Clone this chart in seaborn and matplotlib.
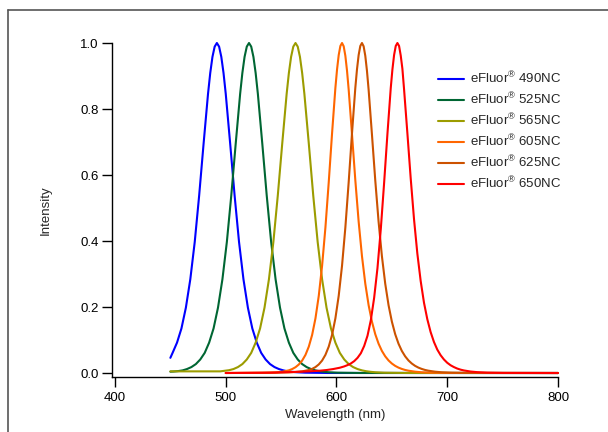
import pandas as pd
import matplotlib
matplotlib.use("Agg")
import matplotlib.pyplot as plt
import seaborn as sns
from matplotlib.lines import Line2D

# emission spectra, values
dyes = [r"eFluor$^{®}$ 490NC", r"eFluor$^{®}$ 525NC", r"eFluor$^{®}$ 565NC",
        r"eFluor$^{®}$ 605NC", r"eFluor$^{®}$ 625NC", r"eFluor$^{®}$ 650NC"]
colors = ["#0000ff", "#006633", "#9c9c00", "#ff6600", "#cc5200", "#ff0000"]

blue_nm = [450, 452, 456, 460, 464, 468, 472, 476, 480, 484, 486, 488, 490, 492, 494, 496, 498,
           500, 504, 508, 512, 516, 520, 524, 528, 532, 536, 540, 544, 548, 552, 556, 560, 564,
           572, 592, 800]
blue_val = [0.046, 0.061, 0.092, 0.135, 0.198, 0.284, 0.397, 0.538, 0.695, 0.846, 0.909, 0.958,
            0.989, 1.0, 0.989, 0.958, 0.909, 0.846, 0.695, 0.538, 0.397, 0.284, 0.198, 0.135,
            0.092, 0.061, 0.041, 0.027, 0.018, 0.012, 0.008, 0.005, 0.0035, 0.0023, 0.001,
            0.0001, 0.0]

green_nm = [450, 453, 457, 461, 465, 469, 473, 477, 481, 485, 489, 493, 497, 501, 505, 509, 513,
            515, 517, 519, 521, 523, 525, 527, 529, 533, 537, 541, 545, 549, 553, 557, 561, 565,
            569, 573, 577, 581, 585, 589, 593, 601, 621, 800]
green_val = [0.004, 0.0045, 0.0058, 0.0079, 0.012, 0.018, 0.027, 0.041, 0.061, 0.092, 0.135,
             0.198, 0.284, 0.397, 0.538, 0.695, 0.846, 0.909, 0.958, 0.989, 1.0, 0.989, 0.958,
             0.909, 0.846, 0.695, 0.538, 0.397, 0.284, 0.198, 0.135, 0.092, 0.061, 0.041, 0.027,
             0.018, 0.012, 0.008, 0.0053, 0.0035, 0.0023, 0.001, 0.0001, 0.0]

olive_nm = [450, 495, 503, 507, 511, 515, 519, 523, 527, 531, 535, 539, 543, 547, 551, 555, 557,
            559, 561, 563, 565, 567, 569, 571, 575, 579, 583, 587, 591, 595, 599, 603, 607, 611,
            615, 619, 623, 627, 631, 635, 643, 663, 800]
olive_val = [0.005, 0.005, 0.0085, 0.012, 0.018, 0.027, 0.041, 0.061, 0.092, 0.135, 0.198, 0.284,
             0.397, 0.538, 0.695, 0.846, 0.909, 0.958, 0.989, 1.0, 0.989, 0.958, 0.909, 0.846,
             0.695, 0.538, 0.397, 0.284, 0.198, 0.135, 0.092, 0.061, 0.041, 0.027, 0.018, 0.012,
             0.008, 0.0053, 0.0035, 0.0023, 0.001, 0.0001, 0.0]

orange_nm = [500, 533, 545, 551, 557, 560, 563, 566, 569, 572, 575, 578, 581, 584, 587, 590, 593,
             596, 599, 600.5, 602, 603.5, 605, 606.5, 608, 609.5, 611, 614, 617, 620, 623, 626,
             629, 632, 635, 638, 641, 644, 647, 650, 653, 656, 659, 662, 665, 671, 677, 686, 701,
             800]
orange_val = [0.0, 0.0004, 0.0017, 0.0038, 0.0081, 0.012, 0.0176, 0.0258, 0.0377, 0.055, 0.08,
              0.1155, 0.1655, 0.234, 0.3252, 0.4409, 0.5783, 0.7264, 0.864, 0.920, 0.9635, 0.991,
              1.0, 0.990, 0.9612, 0.916, 0.8587, 0.7233, 0.5841, 0.4588, 0.3542, 0.2707, 0.2056,
              0.1557, 0.1176, 0.0888, 0.0669, 0.0505, 0.038, 0.0287, 0.0216, 0.0163, 0.0123,
              0.0092, 0.007, 0.004, 0.0022, 0.001, 0.0002, 0.0]

dkorange_nm = [500, 545, 557, 563, 569, 575, 578, 581, 584, 587, 590, 593, 596, 599, 602, 605,
               608, 611, 614, 617, 618.5, 620, 621.5, 623, 624.5, 626, 627.5, 629, 632, 635, 638,
               641, 644, 647, 650, 653, 656, 659, 662, 665, 668, 671, 674, 677, 680, 683, 689,
               695, 704, 719, 800]
dkorange_val = [0.0, 0.001, 0.002, 0.003, 0.005, 0.009, 0.0125, 0.018, 0.026, 0.0377, 0.055, 0.08,
                0.1155, 0.1655, 0.234, 0.3252, 0.4409, 0.5783, 0.7264, 0.864, 0.920, 0.9635,
                0.991, 1.0, 0.990, 0.9612, 0.916, 0.8587, 0.7233, 0.5841, 0.4588, 0.3542, 0.2707,
                0.2056, 0.1557, 0.1176, 0.0888, 0.0669, 0.0505, 0.038, 0.0287, 0.0216, 0.0163,
                0.0123, 0.0092, 0.007, 0.004, 0.0022, 0.001, 0.0002, 0.0]

red_nm = [500, 540, 560, 575, 585, 591, 597, 603, 607, 610, 613, 616, 619, 622, 625, 628, 631,
          634, 637, 640, 643, 646, 649, 650.5, 652, 653.5, 655, 656.5, 658, 659.5, 661, 664, 667,
          670, 673, 676, 679, 682, 685, 688, 691, 694, 697, 700, 703, 706, 709, 712, 715, 721,
          727, 736, 751, 800]
red_val = [0.0, 0.001, 0.003, 0.005, 0.007, 0.009, 0.012, 0.016, 0.02, 0.024, 0.029, 0.036,
           0.046, 0.06, 0.082, 0.113, 0.16, 0.228, 0.318, 0.436, 0.576, 0.725, 0.864, 0.920,
           0.9635, 0.991, 1.0, 0.991, 0.962, 0.922, 0.86, 0.727, 0.59, 0.466, 0.362, 0.279, 0.213,
           0.163, 0.124, 0.094, 0.071, 0.054, 0.041, 0.031, 0.0235, 0.018, 0.0135, 0.0102,
           0.0078, 0.0045, 0.0026, 0.0011, 0.0003, 0.0]

x_ticks = [400, 500, 600, 700, 800]
y_ticks = [0.0, 0.2, 0.4, 0.6, 0.8, 1.0]

sns.set_style("ticks")
plt.rcParams["font.family"] = ["Liberation Sans", "DejaVu Sans"]
plt.rcParams["mathtext.fontset"] = "custom"
plt.rcParams["mathtext.rm"] = "Liberation Sans"
plt.rcParams["mathtext.it"] = "Liberation Sans:italic"
plt.rcParams["mathtext.bf"] = "Liberation Sans:bold"

frames = []
for name, nm, val in zip(dyes,
                         [blue_nm, green_nm, olive_nm, orange_nm, dkorange_nm, red_nm],
                         [blue_val, green_val, olive_val, orange_val, dkorange_val, red_val]):
    frames.append(pd.DataFrame({"Wavelength": nm, "Intensity": val, "Dye": name}))
df = pd.concat(frames, ignore_index=True)

fig = plt.figure(figsize=(6.08, 4.32), dpi=100)
ax = fig.add_axes([112 / 608, 55 / 432, 446 / 608, 334 / 432])

sns.lineplot(data=df, x="Wavelength", y="Intensity", hue="Dye", hue_order=dyes,
             palette=dict(zip(dyes, colors)), estimator=None, sort=False,
             linewidth=1.5, clip_on=False, legend=False, solid_joinstyle="round", ax=ax)

ax.set_xlim(397.3, 800)
ax.set_ylim(-0.0121, 1.0)
ax.set_xticks(x_ticks)
ax.set_yticks(y_ticks)
ax.set_yticklabels([f"{v:.1f}" for v in y_ticks])

for side in ["top", "right"]:
    ax.spines[side].set_visible(False)
for side in ["left", "bottom"]:
    ax.spines[side].set_linewidth(1.0)
    ax.spines[side].set_color("black")

ax.tick_params(axis="both", direction="out", length=7, width=1.0, colors="black",
               labelsize=9.5)
ax.tick_params(axis="y", pad=2.5)
ax.tick_params(axis="x", pad=4)

ax.set_xlabel("Wavelength (nm)", fontsize=9.5)
ax.set_ylabel("Intensity", fontsize=9.5)
ax.xaxis.set_label_coords(0.5, -0.096)
ax.yaxis.set_label_coords(-0.135, 0.5)

handles = [Line2D([], [], color=c, lw=1.5) for c in colors]
ax.legend(handles, dyes, loc="upper left", bbox_to_anchor=(431 / 608, 1 - 64 / 432),
          bbox_transform=fig.transFigure, frameon=False, borderpad=0, fontsize=9.5,
          handlelength=2.0, handletextpad=0.45, labelspacing=0.375)

# outer frame of the original picture
fig.add_artist(Line2D([7.5 / 608, 7.5 / 608], [0, 1 - 9.5 / 432],
                      transform=fig.transFigure, color="#555555", lw=1.2))
fig.add_artist(Line2D([7.5 / 608, 1], [1 - 9.5 / 432, 1 - 9.5 / 432],
                      transform=fig.transFigure, color="#555555", lw=1.2))

fig.savefig("out.png", dpi=100)
